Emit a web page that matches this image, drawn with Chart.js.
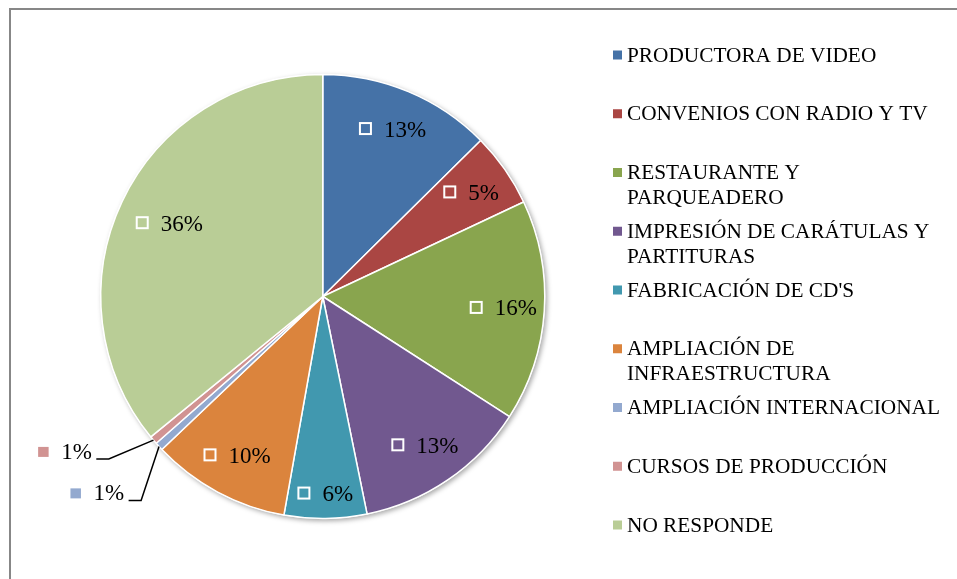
<!DOCTYPE html>
<html>
<head>
<meta charset="utf-8">
<script src="https://cdn.jsdelivr.net/npm/chart.js@4.4.1/dist/chart.umd.min.js"></script>
<style>
  html, body { margin: 0; padding: 0; background: #ffffff; }
  #frame { position: absolute; left: 9px; top: 8px; width: 980px; height: 600px;
           border-left: 2px solid #878787; border-top: 2px solid #878787; }
  #wrap { position: absolute; left: 0; top: 0; width: 957px; height: 579px; }
</style>
</head>
<body>
<div id="frame"></div>
<div id="wrap"><canvas id="c" width="957" height="579"></canvas></div>
<script>
// ---- Data ----
const categories = [
  "PRODUCTORA DE VIDEO",
  "CONVENIOS CON RADIO Y TV",
  "RESTAURANTE Y PARQUEADERO",
  "IMPRESIÓN DE CARÁTULAS Y PARTITURAS",
  "FABRICACIÓN DE CD'S",
  "AMPLIACIÓN DE INFRAESTRUCTURA",
  "AMPLIACIÓN INTERNACIONAL",
  "CURSOS DE PRODUCCIÓN",
  "NO RESPONDE"
];
const values = [12.6, 5.4, 16.1, 12.7, 6.0, 10.1, 0.6, 0.6, 35.9];
const colors = ["#4572A7", "#AA4643", "#89A54E", "#71588F", "#4198AF",
                "#DB843D", "#93A9CF", "#D19392", "#B9CD96"];

// ---- Styling / layout options ----
const serif = "'Liberation Serif', 'Times New Roman', serif";
const labelFont = "23px " + serif;
const legendFont = "21.3px " + serif;
const labelRadiusDefault = 0.815;
const labelRadiusOverride = { 4: 0.89, 8: 0.765 };
// Slices whose label sits outside with a leader line: knee position in polar form
const outsideLabels = {
  6: { angleDeg: 221.7, radiusFactor: 1.23 },
  7: { angleDeg: 232.8, radiusFactor: 1.21 }
};

const shadowPlugin = {
  id: 'pieShadow',
  beforeDatasetsDraw(chart) {
    const arc = chart.getDatasetMeta(0).data[0];
    if (!arc) return;
    const { x, y, outerRadius } = arc.getProps(['x', 'y', 'outerRadius'], true);
    const ctx = chart.ctx;
    ctx.save();
    ctx.shadowColor = 'rgba(0,0,0,0.35)';
    ctx.shadowBlur = 5;
    ctx.shadowOffsetX = 2;
    ctx.shadowOffsetY = 2;
    ctx.fillStyle = '#ffffff';
    ctx.beginPath();
    ctx.arc(x, y, outerRadius + 0.5, 0, Math.PI * 2);
    ctx.fill();
    ctx.restore();
  }
};

const labelPlugin = {
  id: 'pieLabels',
  afterDatasetsDraw(chart) {
    const ctx = chart.ctx;
    const ds = chart.data.datasets[0];
    const total = ds.data.reduce((a, b) => a + b, 0);
    const meta = chart.getDatasetMeta(0);
    ctx.save();
    ctx.font = labelFont;
    ctx.textBaseline = 'middle';
    ctx.fillStyle = '#000';
    meta.data.forEach((arc, i) => {
      const p = arc.getProps(['x', 'y', 'startAngle', 'endAngle', 'outerRadius'], true);
      const mid = (p.startAngle + p.endAngle) / 2;
      const txt = Math.round(ds.data[i] / total * 100) + '%';
      const tw = ctx.measureText(txt).width;
      if (outsideLabels[i]) {
        const o = outsideLabels[i];
        const ex = p.x + Math.cos(mid) * p.outerRadius;
        const ey = p.y + Math.sin(mid) * p.outerRadius;
        const a = (o.angleDeg - 90) * Math.PI / 180;
        const kx = p.x + Math.cos(a) * p.outerRadius * o.radiusFactor;
        const ky = p.y + Math.sin(a) * p.outerRadius * o.radiusFactor;
        ctx.strokeStyle = '#000';
        ctx.lineWidth = 1.5;
        ctx.beginPath();
        ctx.moveTo(ex, ey);
        ctx.lineTo(kx, ky);
        ctx.lineTo(kx - 12.5, ky);
        ctx.stroke();
        const textRight = kx - 17;
        const cy = ky - 6;
        ctx.textAlign = 'right';
        ctx.fillText(txt, textRight, cy);
        ctx.fillStyle = colors[i];
        ctx.fillRect(textRight - tw - 23, cy - 6, 10.5, 10);
        ctx.fillStyle = '#000';
      } else {
        const f = labelRadiusOverride[i] !== undefined ? labelRadiusOverride[i] : labelRadiusDefault;
        const r = p.outerRadius * f;
        const cx = p.x + Math.cos(mid) * r;
        const cy = p.y + Math.sin(mid) * r;
        const gw = 13 + 12 + tw;
        const gx = cx - gw / 2;
        ctx.strokeStyle = '#ffffff';
        ctx.lineWidth = 2;
        ctx.strokeRect(gx + 1, cy - 6.5, 11, 11);
        ctx.textAlign = 'left';
        ctx.fillText(txt, gx + 25, cy + 1);
      }
    });
    ctx.restore();
  }
};

const legendPlugin = {
  id: 'sideLegend',
  afterDraw(chart) {
    const ctx = chart.ctx;
    const labels = chart.data.labels;
    const bg = chart.data.datasets[0].backgroundColor;
    const left = 627, firstY = 55, slot = 58.75, lineH = 25, maxW = 325;
    ctx.save();
    ctx.font = legendFont;
    ctx.textBaseline = 'middle';
    ctx.textAlign = 'left';
    labels.forEach((lab, i) => {
      const y0 = firstY + i * slot;
      const words = lab.split(' ');
      const lines = [];
      let cur = '';
      words.forEach(w => {
        const test = cur ? cur + ' ' + w : w;
        if (ctx.measureText(test).width > maxW && cur) { lines.push(cur); cur = w; }
        else cur = test;
      });
      if (cur) lines.push(cur);
      ctx.fillStyle = bg[i];
      ctx.fillRect(613, y0 - 4.5, 9, 9);
      ctx.fillStyle = '#000';
      lines.forEach((ln, k) => ctx.fillText(ln, left, y0 + 1 + k * lineH));
    });
    ctx.restore();
  }
};

new Chart(document.getElementById('c'), {
  type: 'pie',
  data: {
    labels: categories,
    datasets: [{
      data: values,
      backgroundColor: colors,
      borderColor: '#ffffff',
      borderWidth: 1.5
    }]
  },
  options: {
    responsive: false,
    animation: false,
    layout: { padding: { left: 100, right: 411.5, top: 73.75, bottom: 59.75 } },
    plugins: {
      legend: { display: false },
      tooltip: { enabled: false },
      title: { display: false }
    }
  },
  plugins: [shadowPlugin, labelPlugin, legendPlugin]
});
</script>
</body>
</html>
